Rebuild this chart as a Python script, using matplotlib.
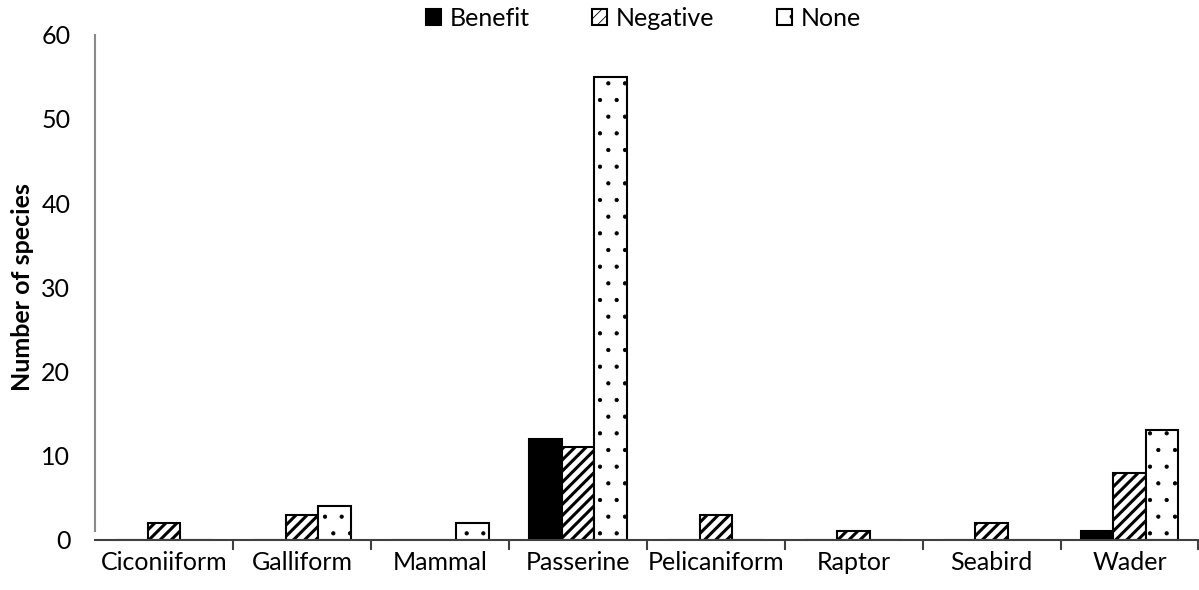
import numpy as np
import matplotlib.pyplot as plt
import matplotlib as mpl

# species counts per group and effect type
groups = ["Ciconiiform", "Galliform", "Mammal", "Passerine",
          "Pelicaniform", "Raptor", "Seabird", "Wader"]
benefit = [0, 0, 0, 12, 0, 0, 0, 1]
negative = [2, 3, 0, 11, 3, 1, 2, 8]
none = [0, 4, 2, 55, 0, 0, 0, 13]

mpl.rcParams['font.family'] = ['Lato', 'DejaVu Sans']

fig = plt.figure(figsize=(11.99, 5.90), dpi=100)
ax = fig.add_axes([0.0795, 0.085, 0.92, 0.856])

x = np.arange(len(groups))
w = 0.235

# hatch width is read when each bar set is made
mpl.rcParams['hatch.linewidth'] = 1.0
ax.bar(x - w, benefit, w, color='black', edgecolor='black', hatch='.',
       linewidth=1.5, label='Benefit')
mpl.rcParams['hatch.linewidth'] = 2.2
ax.bar(x, negative, w, color='white', edgecolor='black', hatch='///',
       linewidth=1.5, label='Negative')
mpl.rcParams['hatch.linewidth'] = 0.6
ax.bar(x + w, none, w, color='white', edgecolor='black', hatch='.',
       linewidth=1.5, label='None')

ax.set_xlim(-0.5, len(groups) - 0.5)
ax.set_ylim(0, 60)
ax.set_yticks(range(0, 61, 10))
ax.tick_params(axis='y', length=0, labelsize=18, pad=18)

# category labels centred, tick marks between categories
ax.set_xticks(x)
ax.set_xticklabels(groups, fontsize=18)
ax.set_xticks(np.arange(len(groups)) + 0.5, minor=True)
ax.tick_params(axis='x', which='major', length=0, pad=8)
ax.tick_params(axis='x', which='minor', length=7, width=1.5, color='#404040')

for s in ['top', 'right']:
    ax.spines[s].set_visible(False)
ax.spines['bottom'].set_color('#404040')
ax.spines['bottom'].set_linewidth(1.5)
ax.spines['left'].set_color('#8a8a8a')
ax.spines['left'].set_linewidth(1.5)
ax.spines['left'].set_bounds(1, 60)

ax.set_ylabel('Number of species', fontsize=18, fontweight='bold', labelpad=5)

ax.legend(loc='upper center', bbox_to_anchor=(0.497, 1.1), ncol=3,
          frameon=False, fontsize=18, handlelength=0.6, handleheight=0.6,
          handletextpad=0.35, columnspacing=2.5)

fig.savefig('out.png', dpi=100)
